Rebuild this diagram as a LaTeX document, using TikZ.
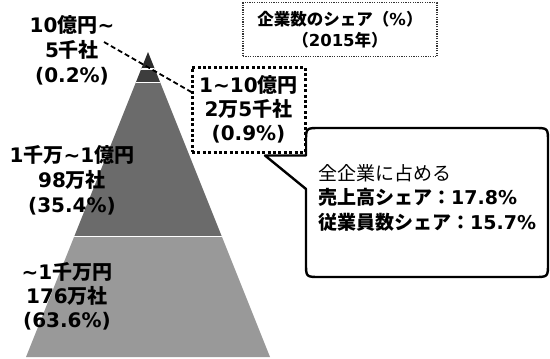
\documentclass[tikz,border=0pt]{standalone}
\usepackage{fontspec}
\setmainfont{Noto Sans CJK JP}
\newfontfamily\dv{DejaVu Sans}
\definecolor{tierA}{gray}{0.17}
\definecolor{tierB}{gray}{0.24}
\definecolor{tierC}{gray}{0.42}
\definecolor{tierD}{gray}{0.60}
\begin{document}
\begin{tikzpicture}[x=1pt,y=-1pt,
  lab/.style={font=\bfseries\fontsize{20}{25}\selectfont, align=center, inner sep=0pt},
  boxtwo/.style={draw=black, line width=3pt, dash pattern=on 3pt off 2.4pt,
    minimum width=113pt, minimum height=85pt, inner sep=0pt,
    font=\bfseries\fontsize{20}{24}\selectfont, align=center},
  titlebox/.style={draw=black!80, line width=1.2pt, dash pattern=on 1.2pt off 1.2pt,
    minimum width=194pt, minimum height=54pt, inner sep=0pt,
    font=\bfseries\fontsize{16.5}{21}\selectfont, align=center},
  calltext/.style={font=\bfseries\fontsize{19}{24.5}\selectfont, align=left, inner sep=0pt, anchor=west},
  callout/.style={draw=black, line width=2.4pt, fill=white, line join=round},
  leader/.style={draw=black, line width=1.8pt, dash pattern=on 5pt off 3pt},
  sep/.style={draw=white, line width=1.8pt}
]
\useasboundingbox (0,0) rectangle (550,359);
\fill[white] (0,0) rectangle (550,359);

% pyramid
\begin{scope}
  \clip (148,52) -- (270,357) -- (26,357) -- cycle;
  \fill[tierA] (0,40) rectangle (300,69);
  \fill[tierB] (0,69) rectangle (300,82);
  \fill[tierC] (0,82) rectangle (300,236);
  \fill[tierD] (0,236) rectangle (300,360);
  \draw[sep] (0,69) -- (300,69);
  \draw[sep] (0,82.5) -- (300,82.5);
  \draw[sep] (0,236.5) -- (300,236.5);
\end{scope}

% leader line
\coordinate (ls) at (104,42);
\coordinate (le) at (200,97);
\draw[leader] (ls) -- (le);

% labels
\node[lab] (l1) at (72,50) {{\dv 10}億円{\dv\textasciitilde}\\{\dv 5}千社\\{\dv (0.2\%)}};
\node[lab] (l3) at (72,180) {{\dv 1}千万{\dv\textasciitilde 1}億円\\{\dv 98}万社\\{\dv (35.4\%)}};
\node[lab, font=\bfseries\fontsize{20}{24}\selectfont] (l4) at (67,296) {{\dv\textasciitilde 1}千万円\\{\dv 176}万社\\{\dv (63.6\%)}};

% title box
\node[titlebox] (tt) at (340,29.5) {企業数のシェア（{\dv\%}）\\（{\dv 2015}年）};

% callout
\draw[callout] (265,155.5) -- (306,155.5) -- (306,142) .. controls (306,128) .. (320,128)
  -- (534,128) .. controls (548,128) .. (548,142) -- (548,263)
  .. controls (548,277) .. (534,277) -- (320,277) .. controls (306,277) .. (306,263)
  -- (306,189) -- cycle;
\node[calltext] (ct) at (318,197.5) {{\mdseries 全企業に占める}\\売上高シェア：{\dv 17.8\%}\\従業員数シェア：{\dv 15.7\%}};

% box 2
\node[boxtwo, fill=white] (b2) at (248.5,109.5) {{\dv 1\textasciitilde 10}億円\\{\dv 2}万{\dv 5}千社\\{\dv (0.9\%)}};
\end{tikzpicture}
\end{document}
